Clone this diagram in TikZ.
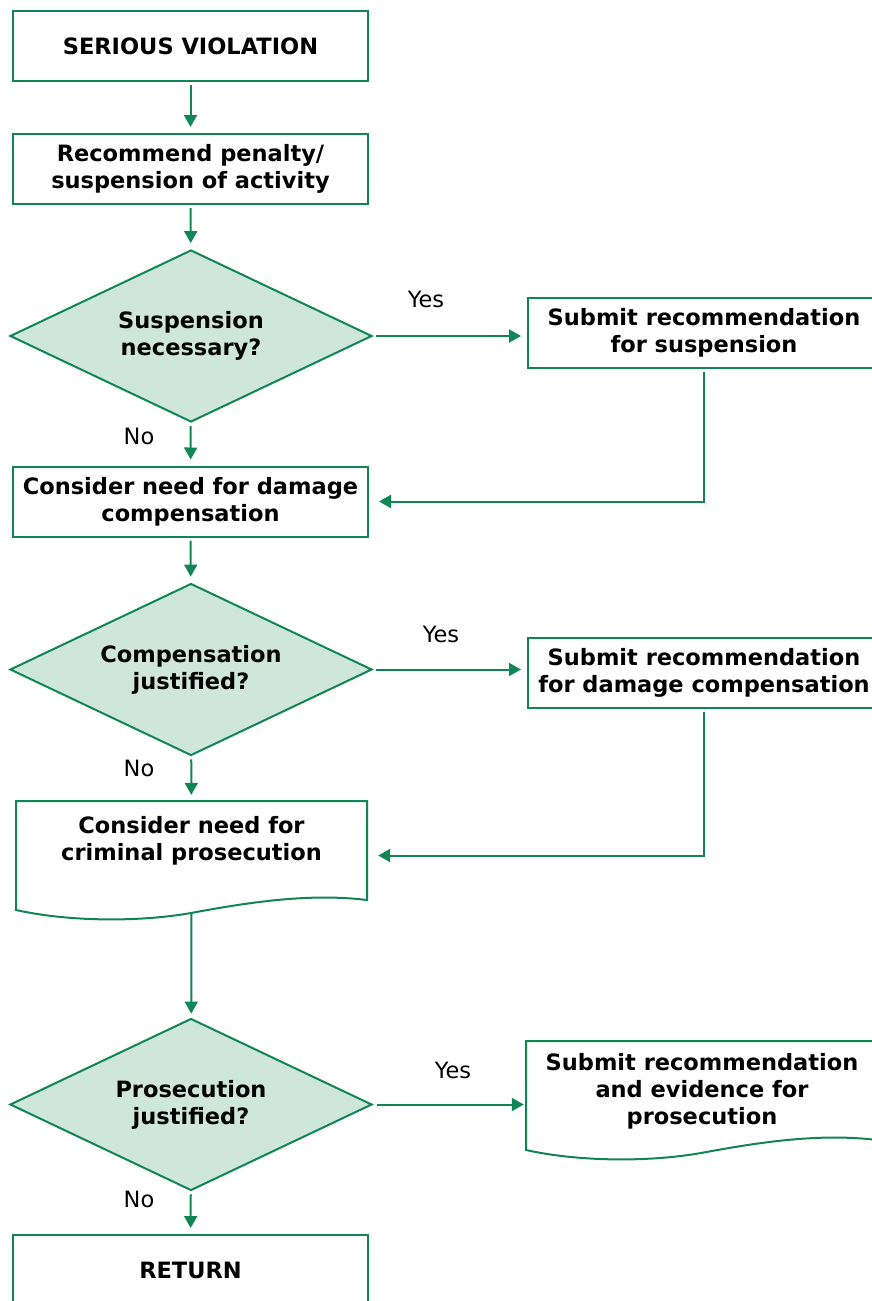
\documentclass[tikz,border=0pt]{standalone}
\usepackage{fontspec}
\setmainfont{DejaVu Sans}
\usetikzlibrary{shapes.geometric,arrows.meta,calc}
\definecolor{flowgreen}{RGB}{16,134,86}
\definecolor{decisionfill}{RGB}{207,230,218}
\tikzset{
  txt/.style={align=center, inner sep=0pt, font=\bfseries\fontsize{22.5}{27}\selectfont},
  box/.style={txt, draw=flowgreen, line width=2pt, minimum width=355pt, minimum height=70pt},
  sidebox/.style={box, minimum width=352pt},
  area/.style={inner sep=0pt},
  docline/.style={draw=flowgreen, line width=2pt},
  decision/.style={txt, diamond, aspect=2.1, draw=flowgreen, fill=decisionfill,
    line width=2pt, minimum width=362pt, minimum height=172pt},
  flow/.style={draw=flowgreen, line width=2pt, -{Triangle[length=12pt,width=13pt]},
    shorten <=3pt, shorten >=6pt},
  lbl/.style={inner sep=0pt, font=\fontsize{22.5}{26}\selectfont},
}
\begin{document}
\begin{tikzpicture}[x=1pt,y=-1pt]
\useasboundingbox (0,0) rectangle (872,1301);
\clip (0,0) rectangle (872,1301);

% process steps
\node[box] (start) at (190.5,46) {SERIOUS VIOLATION};
\node[box] (rec) at (190.5,169) {Recommend penalty/\\suspension of activity};
\node[decision] (q1) at (191,336) {Suspension\\necessary?};
\node[sidebox] (s1) at (704,333) {Submit recommendation\\for suspension};
\node[box] (dmg) at (190.5,501.5) {Consider need for damage\\compensation};
\node[decision] (q2) at (191,669.5) {Compensation\\justified?};
\node[sidebox] (s2) at (704,673) {Submit recommendation\\for damage compensation};

% document-shaped steps (outline drawn below)
\node[area, minimum width=351pt, minimum height=109pt] (crim) at (191.5,855.5) {};
\node[txt] (crimtext) at (191.5,841) {Consider need for\\criminal prosecution};
\node[decision] (q3) at (191,1104.5) {Prosecution\\justified?};
\node[area, minimum width=351pt, minimum height=107pt] (pros) at (701.5,1094.5) {};
\node[txt] (prostext) at (702,1091) {Submit recommendation\\and evidence for\\prosecution};

\draw[docline] (16,801) -- (367,801) -- (367,900)
  .. controls (310,893) and (250,902) .. (191,913)
  .. controls (140,922) and (70,922) .. (16,910) -- cycle;
\begin{scope}[shift={(510,240)}]
\draw[docline] (16,801) -- (367,801) -- (367,900)
  .. controls (310,893) and (250,902) .. (191,913)
  .. controls (140,922) and (70,922) .. (16,910) -- cycle;
\end{scope}

% end step
\node[box, minimum height=100pt] (ret) at (190.5,1285) {};
\node[txt] (rettext) at (190.5,1270) {RETURN};

% branch labels
\node[lbl] (yes1) at (426,299) {Yes};
\node[lbl] (no1) at (139,436) {No};
\node[lbl] (yes2) at (441,634) {Yes};
\node[lbl] (no2) at (139,768) {No};
\node[lbl] (yes3) at (453,1070) {Yes};
\node[lbl] (no3) at (139,1199) {No};

% connectors
\draw[flow] (start) -- (rec);
\draw[flow] (rec) -- (q1);
\draw[flow] (q1.east) -- (q1.east -| s1.west);
\draw[flow, shorten >=10pt] (s1.south) |- (dmg.east);
\draw[flow] (q1) -- (dmg);
\draw[flow] (dmg) -- (q2);
\draw[flow] (q2.east) -- (q2.east -| s2.west);
\draw[flow, shorten >=11pt] (s2.south) |- (crim.east);
\draw[flow] (q2) -- (crim);
\draw[flow, shorten <=0pt, shorten >=4pt] ($(crim.south)+(0,3)$) -- (q3);
\draw[flow, shorten <=4pt, shorten >=2pt] (q3.east) -- (q3.east -| pros.west);
\draw[flow] (q3) -- (ret);
\end{tikzpicture}
\end{document}
